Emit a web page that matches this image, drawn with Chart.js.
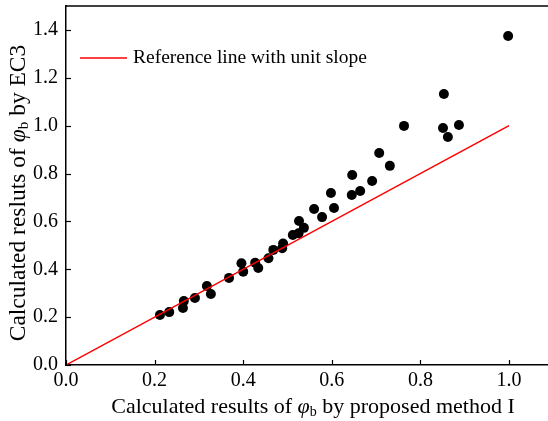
<!DOCTYPE html>
<html>
<head>
<meta charset="utf-8">
<script src="https://cdn.jsdelivr.net/npm/chart.js@4/dist/chart.umd.min.js"></script>
<style>
    html, body { margin: 0; padding: 0; background: #fff; }
    #wrap { width: 548px; height: 421px; }
</style>
</head>
<body>
<div id="wrap"><canvas id="chart" width="548" height="421"></canvas></div>
<script>
// phi_b by proposed method I (x) against phi_b by EC3 (y)
const proposedX = [0.212, 0.233, 0.264, 0.266, 0.291, 0.318, 0.327, 0.368, 0.396, 0.400,
                   0.427, 0.434, 0.457, 0.468, 0.490, 0.488, 0.512, 0.526, 0.537, 0.525,
                   0.560, 0.578, 0.598, 0.605, 0.645, 0.664, 0.646, 0.691, 0.707, 0.731,
                   0.763, 0.851, 0.862, 0.887, 0.853, 0.998];
const ec3Y = [0.209, 0.221, 0.238, 0.267, 0.280, 0.330, 0.297, 0.364, 0.425, 0.390,
              0.427, 0.405, 0.446, 0.481, 0.508, 0.488, 0.543, 0.602, 0.573, 0.550,
              0.652, 0.618, 0.719, 0.656, 0.710, 0.727, 0.794, 0.769, 0.886, 0.832,
              0.999, 0.990, 0.953, 1.003, 1.132, 1.375];

// unit slope reference line
const refX = [0, 1];
const refY = [0, 1];

const xTicks = [0, 0.2, 0.4, 0.6, 0.8, 1.0];
const yTicks = [0, 0.2, 0.4, 0.6, 0.8, 1.0, 1.2, 1.4];

const serif = '"Liberation Serif", "Times New Roman", serif';

// draw a line of text made of parts (for italic phi and subscript b)
function drawRich(ctx, parts, cx, cy, rotation) {
    ctx.save();
    ctx.translate(cx, cy);
    ctx.rotate(rotation);
    ctx.textBaseline = 'middle';
    ctx.textAlign = 'left';
    let total = 0;
    parts.forEach(p => { ctx.font = p.font; total += ctx.measureText(p.text).width; });
    let x = -total / 2;
    parts.forEach(p => {
        ctx.font = p.font;
        ctx.fillStyle = '#000';
        ctx.fillText(p.text, x, p.dy || 0);
        x += ctx.measureText(p.text).width;
    });
    ctx.restore();
}

const framePlugin = {
    id: 'frame',
    afterDraw(chart) {
        const ctx = chart.ctx;
        const area = chart.chartArea;
        const xs = chart.scales.x;
        const ys = chart.scales.y;

        ctx.save();
        ctx.strokeStyle = '#000';
        ctx.lineWidth = 1.5;
        // top border
        ctx.beginPath();
        ctx.moveTo(area.left, area.top);
        ctx.lineTo(area.right, area.top);
        ctx.stroke();

        // inward tick marks
        ctx.lineWidth = 1.2;
        xTicks.forEach(v => {
            const px = Math.round(xs.getPixelForValue(v)) + 0.5;
            ctx.beginPath();
            ctx.moveTo(px, area.bottom);
            ctx.lineTo(px, area.bottom - 5);
            ctx.stroke();
        });
        yTicks.forEach(v => {
            const py = Math.round(ys.getPixelForValue(v)) + 0.5;
            ctx.beginPath();
            ctx.moveTo(area.left, py);
            ctx.lineTo(area.left + 5, py);
            ctx.stroke();
        });

        // legend inside the plot
        const ly = area.top + 52;
        ctx.strokeStyle = '#ff0000';
        ctx.lineWidth = 1.5;
        ctx.beginPath();
        ctx.moveTo(area.left + 14, ly);
        ctx.lineTo(area.left + 61, ly);
        ctx.stroke();
        ctx.fillStyle = '#000';
        ctx.font = '19.5px ' + serif;
        ctx.textBaseline = 'middle';
        ctx.fillText(chart.data.datasets[0].label, area.left + 67, ly);
        ctx.restore();

        // axis titles
        drawRich(ctx, [
            { text: 'Calculated results of ', font: '22px ' + serif },
            { text: 'φ', font: 'italic 22px ' + serif },
            { text: 'b', font: '14px ' + serif, dy: 5 },
            { text: ' by proposed method I', font: '22px ' + serif }
        ], 313, 407, 0);
        drawRich(ctx, [
            { text: 'Calculated resluts of ', font: '23.5px ' + serif },
            { text: 'φ', font: 'italic 23.5px ' + serif },
            { text: 'b', font: '15px ' + serif, dy: 5 },
            { text: ' by EC3', font: '23.5px ' + serif }
        ], 19, 193, -Math.PI / 2);
    }
};

new Chart(document.getElementById('chart'), {
    type: 'scatter',
    data: {
        datasets: [
            {
                type: 'line',
                label: 'Reference line with unit slope',
                data: refX.map((x, i) => ({ x: x, y: refY[i] })),
                borderColor: '#ff0000',
                borderWidth: 1.5,
                pointRadius: 0,
                fill: false,
                order: 0
            },
            {
                label: 'Data',
                data: proposedX.map((x, i) => ({ x: x, y: ec3Y[i] })),
                backgroundColor: '#000',
                borderWidth: 0,
                pointRadius: 5,
                order: 1
            }
        ]
    },
    options: {
        responsive: false,
        animation: false,
        layout: { autoPadding: false, padding: { top: 6, left: 0, right: 0, bottom: 0 } },
        plugins: {
            legend: { display: false },
            tooltip: { enabled: false }
        },
        scales: {
            x: {
                type: 'linear',
                min: 0,
                max: 1.088,
                afterFit: s => {
                    s.height = 56;
                    s.paddingLeft = 0;
                    s.paddingRight = 0;
                },
                grid: { display: false, drawTicks: false },
                border: { display: true, color: '#000', width: 1.5 },
                ticks: {
                    stepSize: 0.2,
                    includeBounds: false,
                    padding: 4,
                    color: '#000',
                    font: { family: serif, size: 20 },
                    callback: v => v.toFixed(1)
                }
            },
            y: {
                type: 'linear',
                min: 0,
                max: 1.5,
                afterFit: s => {
                    s.width = 66;
                    s.paddingTop = 0;
                    s.paddingBottom = 0;
                },
                grid: { display: false, drawTicks: false },
                border: { display: true, color: '#000', width: 1.5 },
                ticks: {
                    stepSize: 0.2,
                    includeBounds: false,
                    padding: 8,
                    color: '#000',
                    font: { family: serif, size: 20 },
                    callback: v => v.toFixed(1)
                }
            }
        }
    },
    plugins: [framePlugin]
});
</script>
</body>
</html>
